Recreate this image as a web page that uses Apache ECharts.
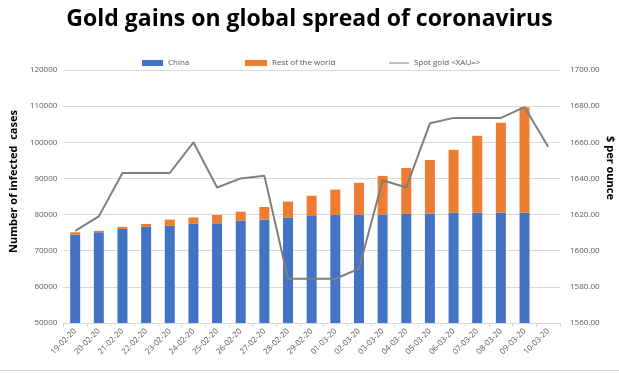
<!DOCTYPE html>
<html><head><meta charset="utf-8">
<script src="https://cdn.jsdelivr.net/npm/echarts@6/dist/echarts.min.js"></script>
<style>html,body{margin:0;padding:0;background:#fff}#c{width:619px;height:374px}</style>
</head><body><div id="c"></div>
<script>
const categories = ['19-02-20','20-02-20','21-02-20','22-02-20','23-02-20','24-02-20','25-02-20','26-02-20','27-02-20','28-02-20','29-02-20','01-03-20','02-03-20','03-03-20','04-03-20','05-03-20','06-03-20','07-03-20','08-03-20','09-03-20','10-03-20'];
const chinaCases = [74500,75100,76000,76700,76900,77500,77600,78300,78600,79200,79600,79900,80000,80000,80200,80300,80500,80500,80500,80500,null];
const restOfWorld = [600,400,600,700,1700,1700,2300,2500,3500,4400,5600,7000,8800,10700,12700,14800,17400,21300,24900,29200,null];
const spotGold = [1611,1619,1643,1643,1643,1660,1635,1640,1641.5,1584.5,1584.5,1584.5,1590,1639,1635,1670.5,1673.5,1673.5,1673.5,1679.5,1657.5];
const leftTicks = {min:50000, max:120000, interval:10000};
const rightTicks = {min:1560, max:1700, interval:20};

const chart = echarts.init(document.getElementById('c'));
const font = 'Open Sans';
const legTxt = {fontFamily:font,fontSize:8,color:'#595959'};
chart.setOption({
  animation:false,
  title:{text:'Gold gains on global spread of coronavirus',left:'center',top:3,
    textStyle:{fontFamily:font,fontWeight:'bold',fontSize:23,color:'#000'}},
  legend:[
    {top:54,left:137,itemWidth:21,itemHeight:6,itemGap:4,textStyle:legTxt,data:[{name:'China',icon:'rect'}]},
    {top:54,left:240,itemWidth:22,itemHeight:6,textStyle:legTxt,data:[{name:'Rest of the world',icon:'rect'}]},
    {top:54,left:384,itemWidth:20,itemHeight:6,textStyle:legTxt,data:[{name:'Spot gold <XAU=>',icon:'path://M0,0 L20,0 L20,1 L0,1 Z'}]}
  ],
  grid:{left:54,right:59,top:70,bottom:51},
  xAxis:{type:'category',data:categories,boundaryGap:true,
    axisLine:{lineStyle:{color:'#d9d9d9'}},
    axisTick:{show:true,lineStyle:{color:'#d9d9d9'},length:4},
    axisLabel:{rotate:45,fontFamily:font,fontSize:8,color:'#595959',margin:7,interval:0}},
  yAxis:[
    {type:'value',min:leftTicks.min,max:leftTicks.max,interval:leftTicks.interval,
      name:'Number of infected  cases',nameLocation:'middle',nameGap:42,
      nameTextStyle:{fontFamily:font,fontWeight:'bold',fontSize:11,color:'#000',padding:[0,0,0,30]},
      axisLabel:{fontFamily:font,fontSize:8,color:'#595959',margin:6,formatter:v=>String(v)},
      splitLine:{lineStyle:{color:'#d9d9d9'}},axisLine:{show:false},axisTick:{show:false}},
    {type:'value',min:rightTicks.min,max:rightTicks.max,interval:rightTicks.interval,position:'right',
      axisLabel:{fontFamily:font,fontSize:8,color:'#595959',margin:10,formatter:v=>v.toFixed(2)},
      splitLine:{show:false},axisLine:{show:false},axisTick:{show:false}}
  ],
  graphic:[
    {type:'text',x:610,y:168,rotation:-Math.PI/2,style:{text:'$ per ounce',fontFamily:font,fontWeight:'bold',fontSize:11,fill:'#000',textAlign:'center',textVerticalAlign:'middle'}},
    {type:'rect',shape:{x:0,y:370,width:619,height:1},style:{fill:'#d9d9d9'}}
  ],
  series:[
    {name:'China',type:'bar',stack:'c',data:chinaCases,barWidth:10,itemStyle:{color:'#4472C4'}},
    {name:'Rest of the world',type:'bar',stack:'c',data:restOfWorld,barWidth:10,itemStyle:{color:'#ED7D31'}},
    {name:'Spot gold <XAU=>',type:'line',yAxisIndex:1,data:spotGold,symbol:'none',
      lineStyle:{color:'#7f7f7f',width:2},itemStyle:{color:'#7f7f7f'}}
  ]
});
</script></body></html>
